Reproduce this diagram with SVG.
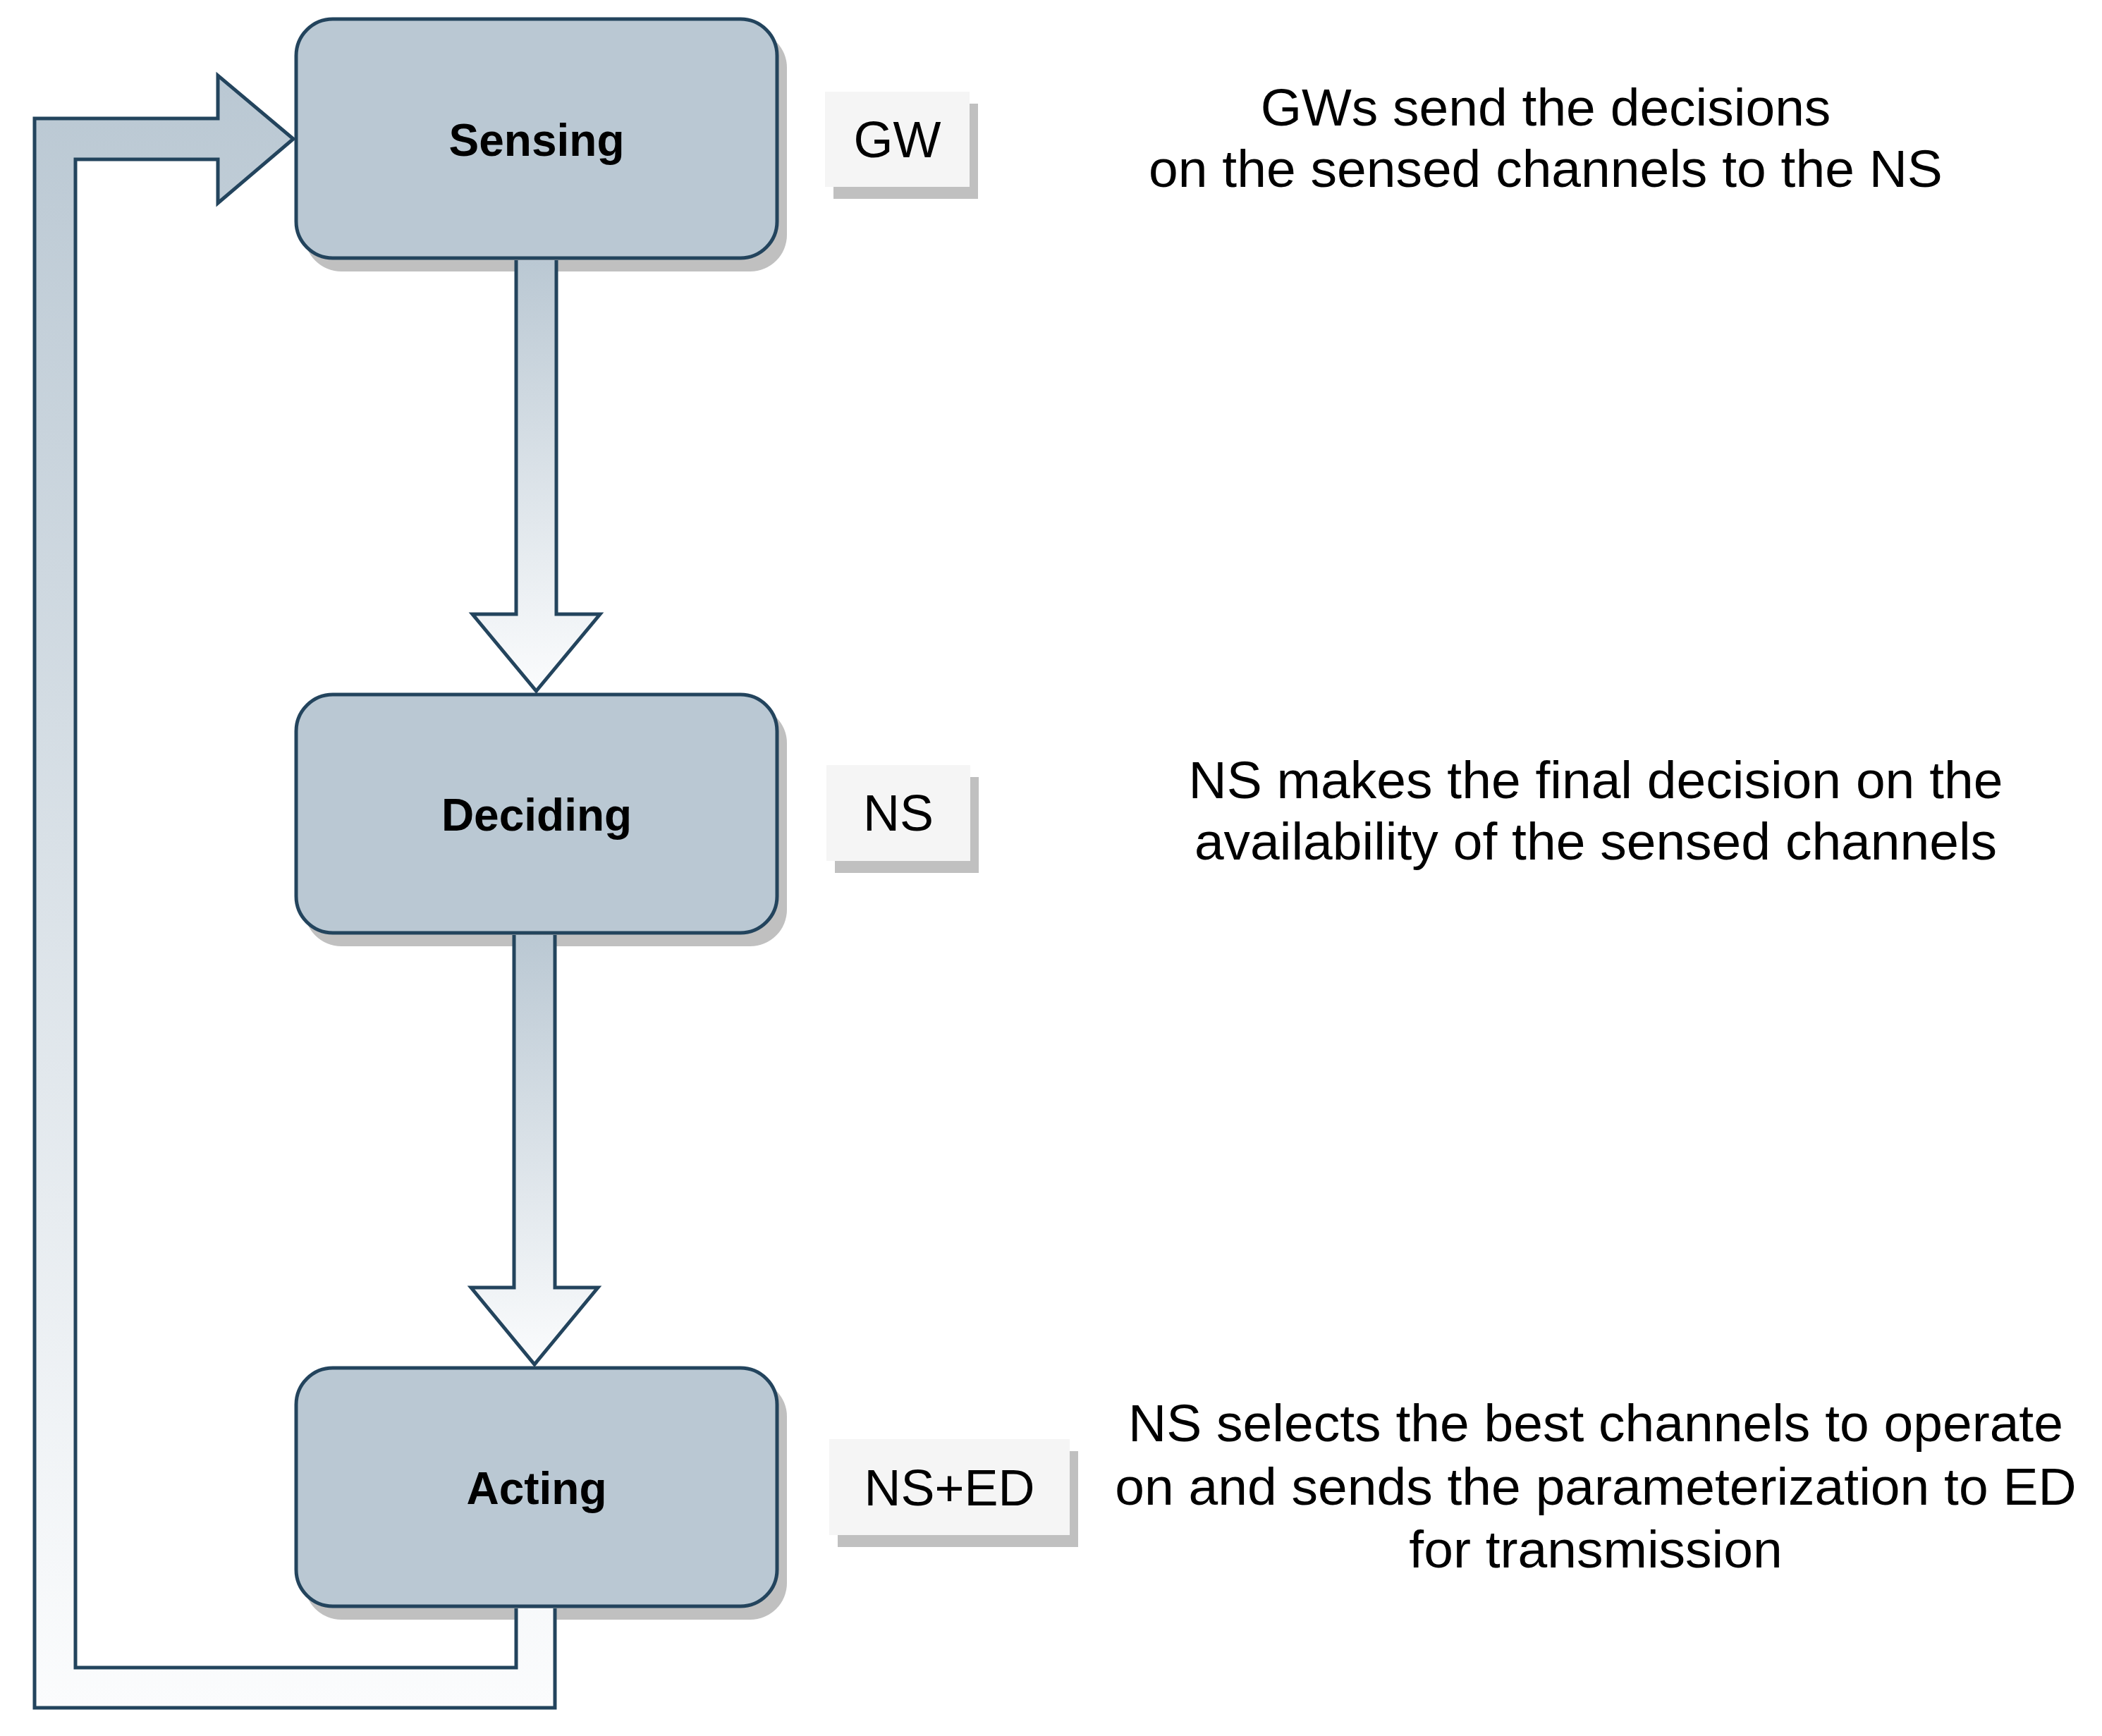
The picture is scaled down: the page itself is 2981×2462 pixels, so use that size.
<svg xmlns="http://www.w3.org/2000/svg" width="2981" height="2462" viewBox="0 0 2981 2462">
<defs>
<linearGradient id="arrowGrad" x1="0" y1="0" x2="0" y2="1">
<stop offset="0" stop-color="#bac8d3"/>
<stop offset="1" stop-color="#fbfcfd"/>
</linearGradient>
<style>
.shadow{fill:#c0c0c0}
.box{fill:#bac8d3;stroke:#23445d;stroke-width:5}
.lbl{fill:#f5f5f5}
.afill{fill:url(#arrowGrad);stroke:none}
.astroke{fill:none;stroke:#23445d;stroke-width:5;stroke-linejoin:miter}
.nodetxt{font-family:"Liberation Sans",Arial,sans-serif;font-weight:bold;font-size:64px;fill:#000;text-anchor:middle}
.lbltxt{font-family:"Liberation Sans",Arial,sans-serif;font-size:72px;fill:#000;text-anchor:middle}
.desc{font-family:"Liberation Sans",Arial,sans-serif;font-size:75px;fill:#000;text-anchor:middle}
</style>
</defs>
<rect width="2981" height="2462" fill="#ffffff"/>

<g id="node-sensing">
<rect class="shadow" x="432" y="44" width="684" height="341" rx="52"/>
<rect class="box" x="420" y="27" width="682" height="339" rx="52"/>
<text class="nodetxt" x="761" y="221">Sensing</text>
</g>
<g id="node-deciding">
<rect class="shadow" x="432" y="1002" width="684" height="340" rx="52"/>
<rect class="box" x="420" y="985" width="682" height="338" rx="52"/>
<text class="nodetxt" x="761" y="1178">Deciding</text>
</g>
<g id="node-acting">
<rect class="shadow" x="432" y="1957" width="684" height="340" rx="52"/>
<rect class="box" x="420" y="1940" width="682" height="338" rx="52"/>
<text class="nodetxt" x="761" y="2133">Acting</text>
</g>

<g id="label-gw">
<rect class="shadow" x="1182" y="147" width="205" height="135"/>
<rect class="lbl" x="1170" y="130" width="205" height="135"/>
<text class="lbltxt" x="1272.5" y="223">GW</text>
</g>
<g id="label-ns">
<rect class="shadow" x="1184" y="1102" width="204" height="136"/>
<rect class="lbl" x="1172" y="1085" width="204" height="136"/>
<text class="lbltxt" x="1274" y="1178">NS</text>
</g>
<g id="label-nsed">
<rect class="shadow" x="1188" y="2058" width="341" height="136"/>
<rect class="lbl" x="1176" y="2041" width="341" height="136"/>
<text class="lbltxt" x="1346.5" y="2135">NS+ED</text>
</g>

<g id="connectors">
<g id="arrow-sensing-deciding">
<polygon class="afill" points="732,369 732,871 670,871 760.5,980 851,871 789,871 789,369"/>
<polyline class="astroke" points="732,369 732,871 670,871 760.5,980 851,871 789,871 789,369"/>
</g>
<g id="arrow-deciding-acting">
<polygon class="afill" points="729,1326 729,1826 668,1826 758,1935 848,1826 787,1826 787,1326"/>
<polyline class="astroke" points="729,1326 729,1826 668,1826 758,1935 848,1826 787,1826 787,1326"/>
</g>
<g id="arrow-acting-sensing">
<polygon class="afill" points="787,2281 787,2422 49,2422 49,168 309,168 309,107 416,197 309,288 309,226 107,226 107,2365 732,2365 732,2281"/>
<polyline class="astroke" points="787,2281 787,2422 49,2422 49,168 309,168 309,107 416,197 309,288 309,226 107,226 107,2365 732,2365 732,2281"/>
</g>
</g>

<g id="descriptions">
<text class="desc" x="2192" y="178">GWs send the decisions</text>
<text class="desc" x="2192" y="265">on the sensed channels to the NS</text>
<text class="desc" x="2263" y="1132">NS makes the final decision on the</text>
<text class="desc" x="2263" y="1219">availability of the sensed channels</text>
<text class="desc" x="2263" y="2044">NS selects the best channels to operate</text>
<text class="desc" x="2263" y="2134">on and sends the parameterization to ED</text>
<text class="desc" x="2263" y="2223">for transmission</text>
</g>
</svg>
